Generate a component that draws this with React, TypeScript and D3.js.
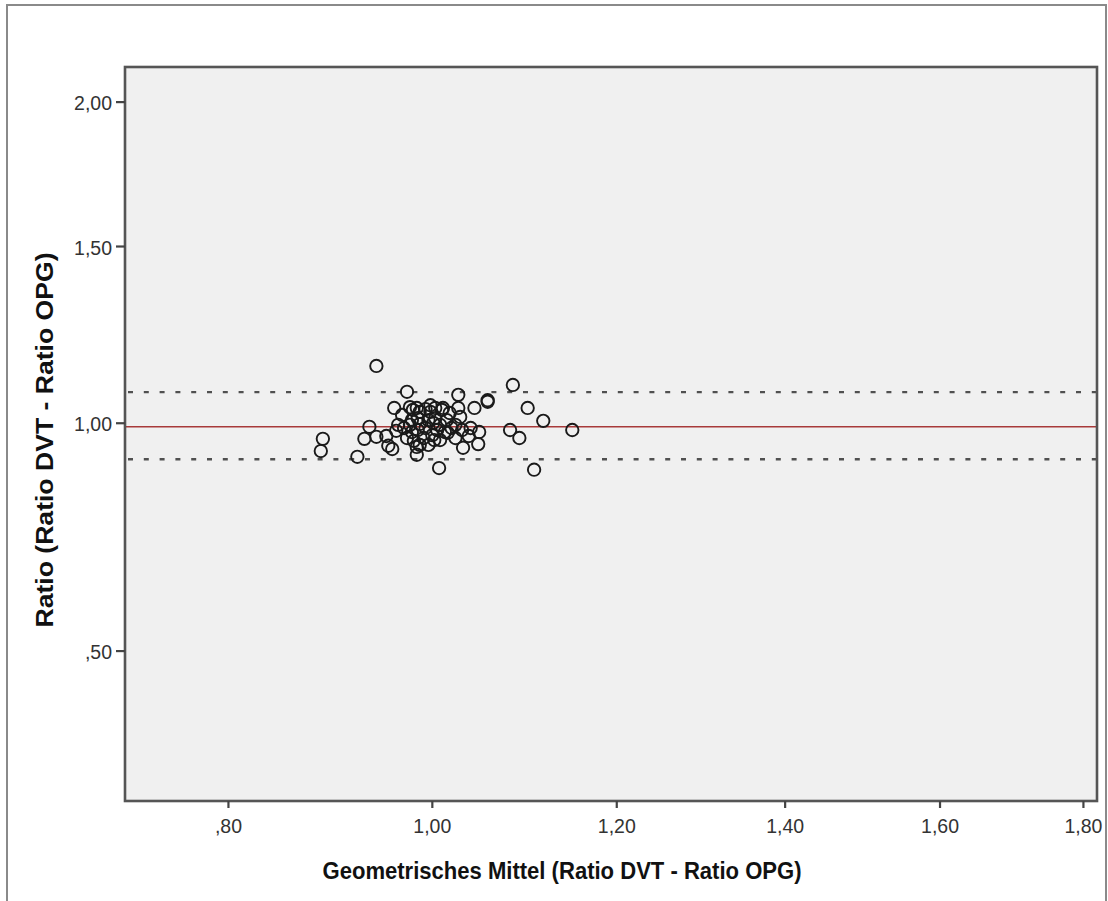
import React from 'react';
import * as d3 from 'd3';

// Bland-Altman style plot: geometric mean vs ratio (DVT / OPG)
const meanValues = [
  0.943, 0.974, 0.961, 0.969, 0.936, 0.890, 0.888, 0.931, 0.943, 0.953,
  0.955, 0.959, 0.924, 0.974, 0.984, 0.984, 1.007, 1.008, 1.003, 1.011,
  0.984, 1.085, 1.027, 1.058, 1.027, 1.044, 1.101, 1.010, 1.029, 1.118,
  1.082, 1.092, 1.150, 1.032, 1.048, 1.049, 1.031, 1.016, 1.108, 1.001,
  1.058, 0.980, 0.987, 0.993, 0.998, 0.979, 0.987, 0.993, 0.996, 1.003,
  1.008, 1.015, 1.020, 1.013, 1.000, 0.991, 0.985, 0.979, 0.977, 0.985,
  0.996, 0.987, 0.981, 1.002, 1.024, 1.018, 0.971, 0.965, 0.963, 0.977,
  0.998, 1.005, 1.040, 1.038, 1.024,
];

const ratioValues = [
  1.150, 1.081, 1.039, 1.021, 0.991, 0.961, 0.931, 0.961, 0.966, 0.968,
  0.944, 0.936, 0.917, 0.963, 0.941, 0.922, 0.890, 0.958, 1.039, 1.039,
  1.039, 1.099, 1.073, 1.055, 1.039, 1.039, 1.039, 1.034, 1.016, 1.006,
  0.983, 0.963, 0.983, 0.939, 0.948, 0.978, 0.983, 0.976, 0.886, 1.001,
  1.059, 1.034, 1.029, 1.036, 1.029, 1.008, 0.998, 0.988, 1.008, 1.013,
  0.996, 1.008, 0.988, 0.978, 0.970, 0.963, 0.983, 0.978, 0.996, 1.013,
  0.946, 0.946, 0.956, 0.958, 0.963, 1.026, 0.988, 0.996, 0.981, 1.041,
  1.046, 0.983, 0.988, 0.968, 0.996,
];

const meanRatio = 0.991;
const limitsOfAgreement = [0.911, 1.080];

const xTicks = [0.8, 1.0, 1.2, 1.4, 1.6, 1.8];
const xTickLabels = [',80', '1,00', '1,20', '1,40', '1,60', '1,80'];
const yTicks = [0.5, 1.0, 1.5, 2.0];
const yTickLabels = [',50', '1,00', '1,50', '2,00'];

const xTitle = 'Geometrisches Mittel (Ratio DVT - Ratio OPG)';
const yTitle = 'Ratio (Ratio DVT - Ratio OPG)';

const W = 1108;
const H = 901;
const plot = { left: 125, top: 67, right: 1097, bottom: 801 };
const font = "Arial, 'Liberation Sans', sans-serif";

const App: React.FC = () => {
  // SPSS "safe log" axes: log(1 + v)
  const x = d3.scaleSymlog().constant(1)
    .domain([0.7063, 1.8197])
    .range([plot.left, plot.right]);

  const y = d3.scaleSymlog().constant(1)
    .domain([0.2413, 2.136])
    .range([plot.bottom, plot.top]);

  return (
    <svg width={W} height={H} style={{ position: 'absolute', left: 0, top: 0, background: '#fff' }}>
      {/* outer chart frame */}
      <rect x={7} y={5} width={1099} height={905} fill="#fff" stroke="#8a8a8a" strokeWidth={2} />

      {/* plot area */}
      <rect x={plot.left} y={plot.top} width={plot.right - plot.left} height={plot.bottom - plot.top}
        fill="#f0f0f0" />

      {/* limits of agreement */}
      {limitsOfAgreement.map((v, i) => (
        <line key={'loa' + i} x1={plot.left + 3} x2={plot.right} y1={y(v)} y2={y(v)}
          stroke="#505050" strokeWidth={2.4} strokeDasharray="5 10.8" />
      ))}

      {/* mean ratio */}
      <line x1={plot.left} x2={plot.right} y1={y(meanRatio)} y2={y(meanRatio)}
        stroke="#a83a3a" strokeWidth={1.6} />

      {/* points */}
      {meanValues.map((m, i) => (
        <circle key={i} cx={x(m)} cy={y(ratioValues[i])} r={6.2}
          fill="none" stroke="#1a1a1a" strokeWidth={1.9} />
      ))}

      <rect x={plot.left} y={plot.top} width={plot.right - plot.left} height={plot.bottom - plot.top}
        fill="none" stroke="#555" strokeWidth={2.6} />

      {/* y axis */}
      {yTicks.map((t, i) => (
        <g key={'y' + i}>
          <line x1={plot.left - 9} x2={plot.left} y1={y(t)} y2={y(t)} stroke="#444" strokeWidth={2.2} />
          <text x={112} y={y(t) + 8} textAnchor="end" fontFamily={font} fontSize={19.5} fill="#333">
            {yTickLabels[i]}
          </text>
        </g>
      ))}

      {/* x axis */}
      {xTicks.map((t, i) => (
        <g key={'x' + i}>
          <line x1={x(t)} x2={x(t)} y1={plot.bottom} y2={plot.bottom + 7} stroke="#444" strokeWidth={2.2} />
          <text x={x(t)} y={833} textAnchor="middle" fontFamily={font} fontSize={19.5} fill="#333">
            {xTickLabels[i]}
          </text>
        </g>
      ))}

      <text x={562} y={879} textAnchor="middle" fontFamily={font} fontSize={23} fontWeight="bold"
        fill="#111" textLength={479} lengthAdjust="spacingAndGlyphs">
        {xTitle}
      </text>

      <text transform="translate(53,440) rotate(-90)" textAnchor="middle" fontFamily={font} fontSize={24}
        fontWeight="bold" fill="#111" textLength={375} lengthAdjust="spacingAndGlyphs">
        {yTitle}
      </text>
    </svg>
  );
};

export default App;
